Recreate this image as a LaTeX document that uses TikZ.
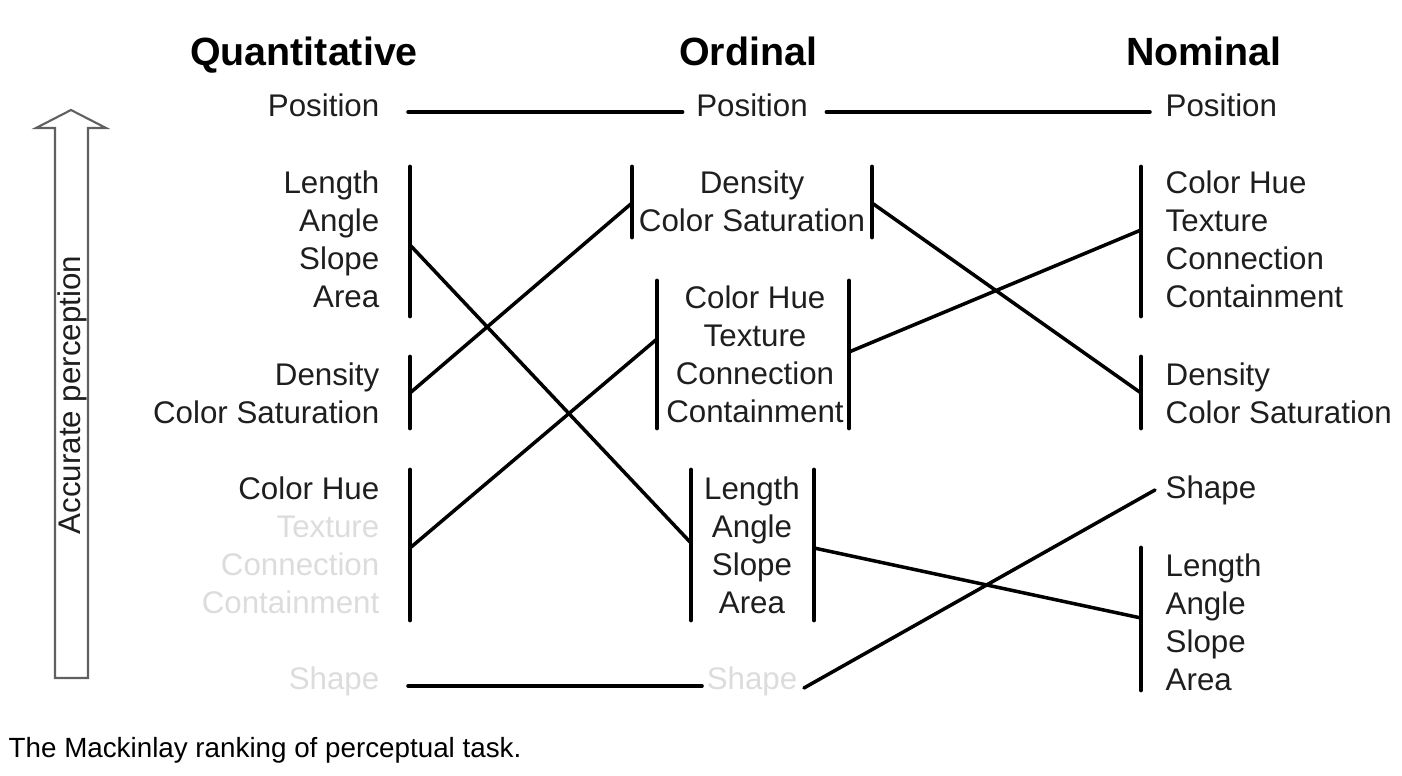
\documentclass[tikz,border=0pt]{standalone}
\usepackage{fontspec}
\setmainfont{Liberation Sans}
\usetikzlibrary{positioning,calc}
\definecolor{ink}{HTML}{1E1E1E}
\definecolor{faded}{HTML}{DCDCDC}
\definecolor{frame}{HTML}{606060}

\tikzset{
  head/.style={inner sep=0pt,anchor=base,font=\fontsize{11.2}{13}\selectfont\bfseries,text=black},
  item/.style={inner sep=0pt,font=\fontsize{8.9}{10.86}\selectfont,text=ink},
  quant/.style={item,anchor=east,align=right},
  ord/.style={item,anchor=center,align=center},
  nom/.style={item,anchor=west,align=left},
  bar/.style={line width=1.4pt,line cap=round},
  link/.style={line width=1.0pt,line cap=round},
}

\begin{document}
\begin{tikzpicture}[x=0.01cm,y=-0.01cm]
  \useasboundingbox (0,0) rectangle (1402,776);

  % column heads
  \node[head] (hquant) at (304,66) {Quantitative};
  \node[head] (hord) at (748,66) {Ordinal};
  \node[head] (hnom) at (1204,66) {Nominal};

  % accuracy arrow
  \draw[frame,line width=0.6pt] (55,678) -- (55,128) -- (36,128) -- (71,110)
    -- (106,128) -- (88,128) -- (88,678) -- cycle;
  \node[item,rotate=90] (acc) at (72,395) {Accurate perception};

  % quantitative
  \node[quant] (qpos) at (380,105) {Position};
  \node[quant] (qlen) at (380,239.5) {Length\\Angle\\Slope\\Area};
  \node[quant] (qden) at (380,393) {Density\\Color Saturation};
  \node[quant] (qhue) at (380,545.5) {Color Hue\\\textcolor{faded}{Texture}\\
    \textcolor{faded}{Connection}\\\textcolor{faded}{Containment}};
  \node[quant,text=faded] (qshp) at (380,681) {Shape};

  % ordinal
  \node[ord] (opos) at (752,105) {Position};
  \node[ord] (oden) at (752,201) {Density\\Color Saturation};
  \node[ord] (ohue) at (755,354.5) {Color Hue\\Texture\\Connection\\Containment};
  \node[ord] (olen) at (752,545.5) {Length\\Angle\\Slope\\Area};
  \node[ord,text=faded] (oshp) at (752,681) {Shape};

  % nominal
  \node[nom] (npos) at (1165,105) {Position};
  \node[nom] (nhue) at (1165,239.5) {Color Hue\\Texture\\Connection\\Containment};
  \node[nom] (nden) at (1165,393) {Density\\Color Saturation};
  \node[nom] (nshp) at (1165,490) {Shape};
  \node[nom] (nlen) at (1165,622.5) {Length\\Angle\\Slope\\Area};

  % group bars
  \foreach \x/\ya/\yb in {410/167/316,410/357/428,410/470/620,
      632/167/237,872/167/237,657/281/428,849/281/428,691/470/620,814/470/620,
      1141/167/316,1141/357/428,1141/548/690}
    \draw[bar] (\x,\ya) -- (\x,\yb);

  \coordinate (qlenB) at (410,245);
  \coordinate (qdenB) at (410,393);
  \coordinate (qhueB) at (410,548);
  \coordinate (odenL) at (632,203);
  \coordinate (odenR) at (872,203);
  \coordinate (ohueL) at (657,339);
  \coordinate (ohueR) at (849,352);
  \coordinate (olenL) at (691,543);
  \coordinate (olenR) at (814,548);
  \coordinate (nhueB) at (1141,230);
  \coordinate (ndenB) at (1141,393);
  \coordinate (nlenB) at (1141,618);

  % rank changes
  \draw[link] ([shift={(28,7)}]qpos.east) -- ([shift={(-13,7)}]opos.west);
  \draw[link] ([shift={(18,7)}]opos.east) -- ([shift={(-15,7)}]npos.west);
  \draw[link] (qlenB) -- (olenL);
  \draw[link] (qdenB) -- (odenL);
  \draw[link] (qhueB) -- (ohueL);
  \draw[link] (odenR) -- (ndenB);
  \draw[link] (ohueR) -- (nhueB);
  \draw[link] (olenR) -- (nlenB);
  \draw[link] ([shift={(28,5)}]qshp.east) -- ([shift={(-4,5)}]oshp.west);
  \draw[link] ([shift={(6,7)}]oshp.east) -- ([shift={(-10,0)}]nshp.west);

  \node[anchor=west,inner sep=0pt,font=\fontsize{7.9}{9.5}\selectfont] (cap)
    at (8,750) {The Mackinlay ranking of perceptual task.};
\end{tikzpicture}
\end{document}
